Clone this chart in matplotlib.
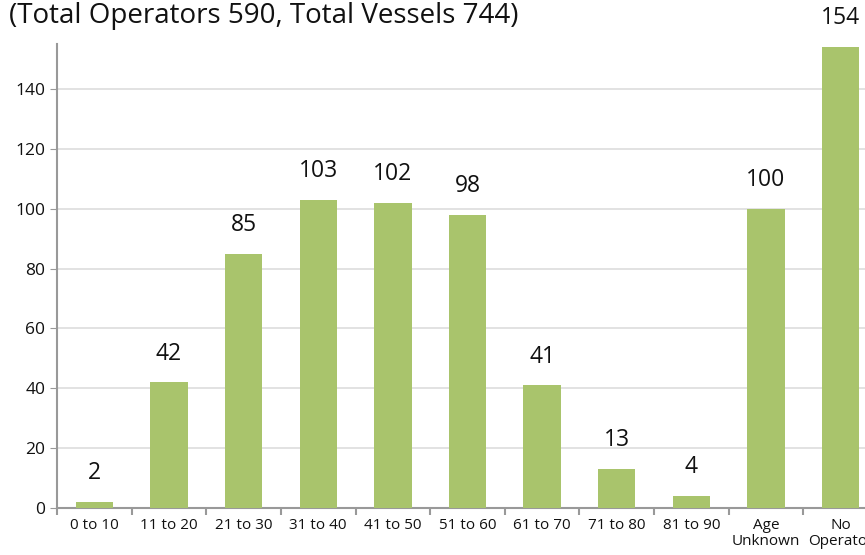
import numpy as np
import matplotlib.pyplot as plt

# data
age_groups = ["0 to 10", "11 to 20", "21 to 30", "31 to 40", "41 to 50",
              "51 to 60", "61 to 70", "71 to 80", "81 to 90",
              "Age\nUnknown", "No\nOperator"]
operators = [2, 42, 85, 103, 102, 98, 41, 13, 4, 100, 154]
title = "(Total Operators 590, Total Vessels 744)"

plt.rcParams['font.family'] = ['Open Sans', 'DejaVu Sans']

W, H = 865, 555
fig = plt.figure(figsize=(W / 100, H / 100), dpi=100)
# axes extends beyond the right edge, as in the reference
ax = fig.add_axes([57 / W, (H - 508) / H, (878 - 57) / W, (508 - 44) / H])

x = np.arange(len(age_groups))
ax.bar(x, operators, width=0.5, color="#a9c46c", zorder=3)

for xi, v in zip(x, operators):
    ax.annotate(str(v), (xi, v), xytext=(0, 12), textcoords="offset points",
                ha="center", va="bottom", fontsize=16.5, color="#111111")

ax.set_xlim(-0.5, len(age_groups) - 0.5)
ax.set_ylim(0, 155)
ax.set_yticks(range(0, 141, 20))
ax.tick_params(axis="y", labelsize=12.5, length=5, color="#999999", labelcolor="#111111")

ax.set_xticks(x)
ax.set_xticklabels(age_groups, fontsize=11, color="#111111", linespacing=1.15)
ax.set_xticks(np.arange(-0.5, len(age_groups), 1), minor=True)
ax.tick_params(axis="x", which="major", length=0, pad=7)
ax.tick_params(axis="x", which="minor", length=5, width=1.5, color="#999999")

ax.grid(axis="y", color="#dddddd", linewidth=1.2, zorder=0)
for s in ["top", "right"]:
    ax.spines[s].set_visible(False)
for s in ["left", "bottom"]:
    ax.spines[s].set_color("#999999")
    ax.spines[s].set_linewidth(1.5)

fig.text(9 / W, 1 - 23 / H, title, fontsize=20, color="#111111", va="baseline")

fig.savefig("out.png", dpi=100)
